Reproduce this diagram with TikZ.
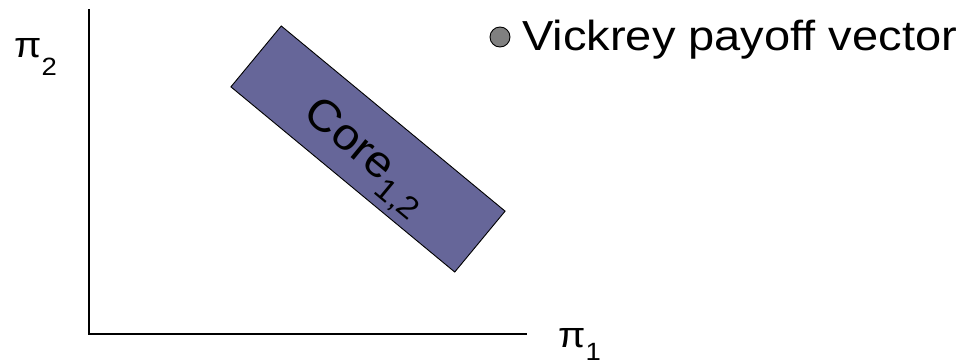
\documentclass[tikz,border=0pt]{standalone}
\usepackage{fontspec}
\setmainfont{Liberation Sans}
\begin{document}
\begin{tikzpicture}[x=1pt,y=-1pt,
  axis/.style={draw=black,line width=1.8pt},
  corebox/.style={draw=black,line width=0.9pt,fill=coreblue,rotate=-39.6,minimum width=290.5pt,minimum height=79pt,inner sep=0pt},
  vdot/.style={circle,draw=black,line width=0.9pt,fill=gray,minimum size=20pt,inner sep=0pt},
  lbl/.style={inner sep=0pt,font=\fontsize{44}{48}\selectfont},
  pilbl/.style={inner sep=0pt,anchor=base west,font=\fontsize{36}{40}\selectfont}
]
\definecolor{coreblue}{RGB}{102,102,153}
\useasboundingbox (0,0) rectangle (969,359);
\coordinate (ytop) at (89,9);
\coordinate (orig) at (89,334);
\coordinate (xend) at (527,334);
\draw[axis] (ytop) -- (orig) -- (xend);
\node[corebox] (core) at (368,149) {};
\node[lbl,rotate=-39.6,anchor=center,xscale=1.08] (corelbl) at (364,159) {Core\textsubscript{\fontsize{31}{33}\selectfont 1,2}};
\node[vdot] (dot) at (500,37) {};
\node[lbl,anchor=base west,font=\fontsize{42}{46}\selectfont,xscale=1.12] (vick) at (522,50) {Vickrey payoff vector};
\node[pilbl,xscale=1.1] (pi2) at (14,57) {π\raisebox{-18pt}{\fontsize{25}{28}\selectfont 2}};
\node[pilbl,xscale=1.1] (pi1) at (558,347) {π\raisebox{-13pt}{\fontsize{25}{28}\selectfont 1}};
\end{tikzpicture}
\end{document}
